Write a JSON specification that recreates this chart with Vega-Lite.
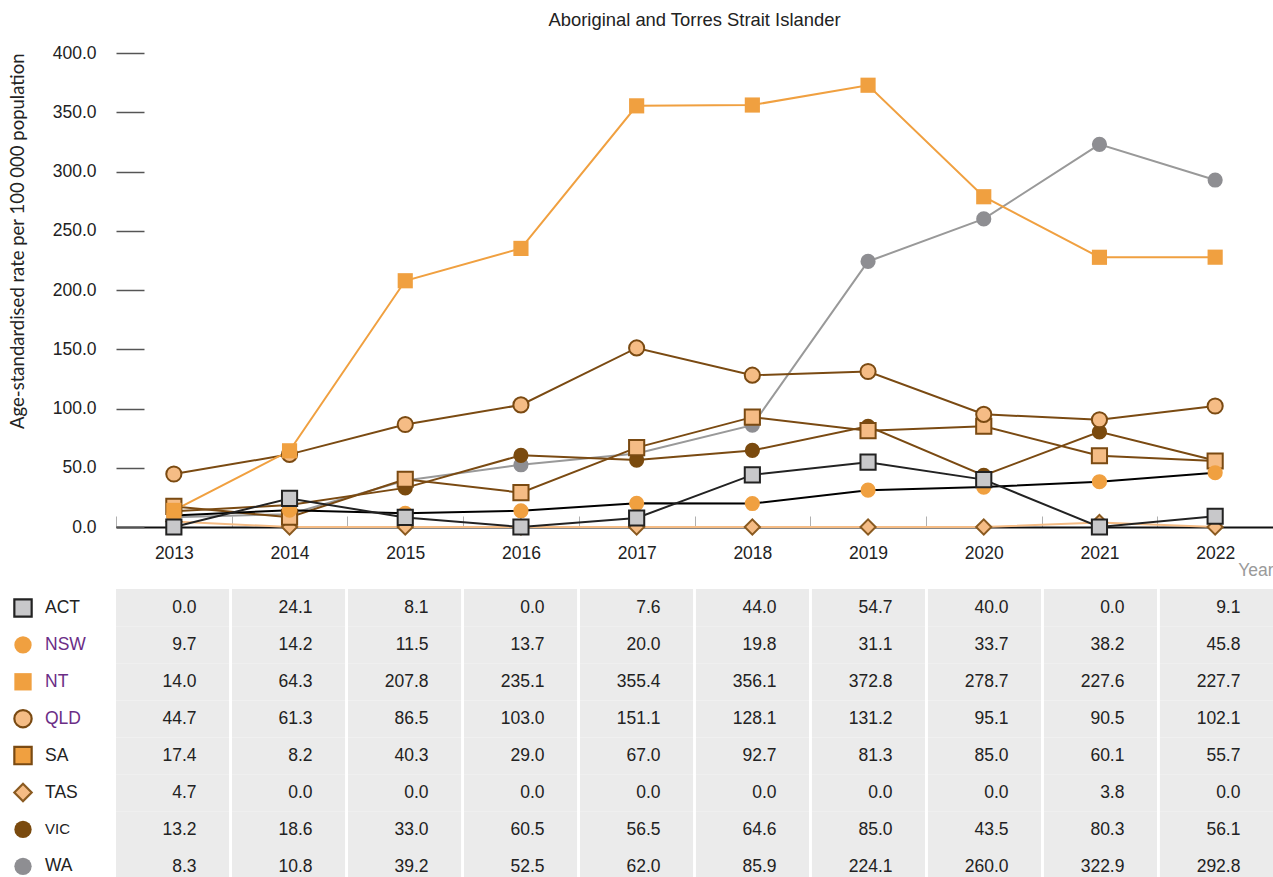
{
  "$schema": "https://vega.github.io/schema/vega-lite/v6.json",
  "background": "white",
  "padding": {"left": 4, "top": 10, "right": 0, "bottom": 0},
  "config": {
    "view": {"stroke": null},
    "font": "Liberation Sans",
    "legend": {"orient": "left", "offset": 21, "padding": 9, "rowPadding": 8.9, "symbolSize": 300, "symbolStrokeWidth": 2.2, "labelFontSize": 17.5, "labelFont": "Liberation Sans", "labelOffset": 12, "labelColor": "#222", "symbolOpacity": 1, "labelLimit": 0}
  },
  "datasets": {
    "rates": [
      {"state": "WA", "year": 2013, "rate": 8.3}, {"state": "WA", "year": 2014, "rate": 10.8}, {"state": "WA", "year": 2015, "rate": 39.2}, {"state": "WA", "year": 2016, "rate": 52.5}, {"state": "WA", "year": 2017, "rate": 62.0}, {"state": "WA", "year": 2018, "rate": 85.9}, {"state": "WA", "year": 2019, "rate": 224.1}, {"state": "WA", "year": 2020, "rate": 260.0}, {"state": "WA", "year": 2021, "rate": 322.9}, {"state": "WA", "year": 2022, "rate": 292.8},
      {"state": "VIC", "year": 2013, "rate": 13.2}, {"state": "VIC", "year": 2014, "rate": 18.6}, {"state": "VIC", "year": 2015, "rate": 33.0}, {"state": "VIC", "year": 2016, "rate": 60.5}, {"state": "VIC", "year": 2017, "rate": 56.5}, {"state": "VIC", "year": 2018, "rate": 64.6}, {"state": "VIC", "year": 2019, "rate": 85.0}, {"state": "VIC", "year": 2020, "rate": 43.5}, {"state": "VIC", "year": 2021, "rate": 80.3}, {"state": "VIC", "year": 2022, "rate": 56.1},
      {"state": "TAS", "year": 2013, "rate": 4.7}, {"state": "TAS", "year": 2014, "rate": 0.0}, {"state": "TAS", "year": 2015, "rate": 0.0}, {"state": "TAS", "year": 2016, "rate": 0.0}, {"state": "TAS", "year": 2017, "rate": 0.0}, {"state": "TAS", "year": 2018, "rate": 0.0}, {"state": "TAS", "year": 2019, "rate": 0.0}, {"state": "TAS", "year": 2020, "rate": 0.0}, {"state": "TAS", "year": 2021, "rate": 3.8}, {"state": "TAS", "year": 2022, "rate": 0.0},
      {"state": "SA", "year": 2013, "rate": 17.4}, {"state": "SA", "year": 2014, "rate": 8.2}, {"state": "SA", "year": 2015, "rate": 40.3}, {"state": "SA", "year": 2016, "rate": 29.0}, {"state": "SA", "year": 2017, "rate": 67.0}, {"state": "SA", "year": 2018, "rate": 92.7}, {"state": "SA", "year": 2019, "rate": 81.3}, {"state": "SA", "year": 2020, "rate": 85.0}, {"state": "SA", "year": 2021, "rate": 60.1}, {"state": "SA", "year": 2022, "rate": 55.7},
      {"state": "QLD", "year": 2013, "rate": 44.7}, {"state": "QLD", "year": 2014, "rate": 61.3}, {"state": "QLD", "year": 2015, "rate": 86.5}, {"state": "QLD", "year": 2016, "rate": 103.0}, {"state": "QLD", "year": 2017, "rate": 151.1}, {"state": "QLD", "year": 2018, "rate": 128.1}, {"state": "QLD", "year": 2019, "rate": 131.2}, {"state": "QLD", "year": 2020, "rate": 95.1}, {"state": "QLD", "year": 2021, "rate": 90.5}, {"state": "QLD", "year": 2022, "rate": 102.1},
      {"state": "NT", "year": 2013, "rate": 14.0}, {"state": "NT", "year": 2014, "rate": 64.3}, {"state": "NT", "year": 2015, "rate": 207.8}, {"state": "NT", "year": 2016, "rate": 235.1}, {"state": "NT", "year": 2017, "rate": 355.4}, {"state": "NT", "year": 2018, "rate": 356.1}, {"state": "NT", "year": 2019, "rate": 372.8}, {"state": "NT", "year": 2020, "rate": 278.7}, {"state": "NT", "year": 2021, "rate": 227.6}, {"state": "NT", "year": 2022, "rate": 227.7},
      {"state": "NSW", "year": 2013, "rate": 9.7}, {"state": "NSW", "year": 2014, "rate": 14.2}, {"state": "NSW", "year": 2015, "rate": 11.5}, {"state": "NSW", "year": 2016, "rate": 13.7}, {"state": "NSW", "year": 2017, "rate": 20.0}, {"state": "NSW", "year": 2018, "rate": 19.8}, {"state": "NSW", "year": 2019, "rate": 31.1}, {"state": "NSW", "year": 2020, "rate": 33.7}, {"state": "NSW", "year": 2021, "rate": 38.2}, {"state": "NSW", "year": 2022, "rate": 45.8},
      {"state": "ACT", "year": 2013, "rate": 0.0}, {"state": "ACT", "year": 2014, "rate": 24.1}, {"state": "ACT", "year": 2015, "rate": 8.1}, {"state": "ACT", "year": 2016, "rate": 0.0}, {"state": "ACT", "year": 2017, "rate": 7.6}, {"state": "ACT", "year": 2018, "rate": 44.0}, {"state": "ACT", "year": 2019, "rate": 54.7}, {"state": "ACT", "year": 2020, "rate": 40.0}, {"state": "ACT", "year": 2021, "rate": 0.0}, {"state": "ACT", "year": 2022, "rate": 9.1}
    ]
  },
  "bounds": "flush",
  "spacing": 62,
  "resolve": {
    "scale": {"color": "independent", "fill": "independent", "stroke": "independent", "shape": "independent"},
    "legend": {"color": "independent", "fill": "independent", "stroke": "independent", "shape": "independent"}
  },
  "vconcat": [
    {
      "width": 1157,
      "height": 474,
      "title": {"text": "Aboriginal and Torres Strait Islander", "fontSize": 18.4, "font": "Liberation Sans", "fontWeight": "normal", "color": "#222", "offset": 15, "anchor": "middle"},
      "data": {"name": "rates"},
      "encoding": {
        "x": {
          "field": "year", "type": "ordinal",
          "scale": {"paddingInner": 0, "paddingOuter": 0},
          "axis": {
            "title": "Year", "titleColor": "#9a9a9a", "titleFontSize": 17.5, "titleFontWeight": "normal", "titleFont": "Liberation Sans", "titleAnchor": "end", "titlePadding": 0,
            "labelAngle": 0, "labelFontSize": 17.5, "labelColor": "#222", "labelPadding": 28,
            "tickBand": "extent", "tickSize": -11, "tickColor": "#b0b0b0", "tickWidth": 1,
            "domainColor": "#111", "domainWidth": 2, "grid": false
          }
        },
        "y": {
          "field": "rate", "type": "quantitative",
          "scale": {"domain": [0, 400], "nice": false},
          "axis": {
            "title": "Age-standardised rate per 100 000 population",
            "titleFont": "Lato", "titleFontSize": 18.5, "titleFontWeight": "normal", "titleColor": "#222",
            "titleAnchor": "end", "titlePadding": 25,
            "values": [0, 50, 100, 150, 200, 250, 300, 350, 400], "format": ".1f",
            "labelFontSize": 17.5, "labelColor": "#222",
            "tickSize": -28, "tickColor": "#555", "tickWidth": 1.5, "labelPadding": 48,
            "domain": false, "grid": false
          }
        }
      },
      "layer": [
        {
          "mark": {"type": "line", "strokeWidth": 2},
          "encoding": {
            "color": {
              "field": "state", "type": "nominal", "legend": null,
              "scale": {
                "domain": ["ACT", "NSW", "NT", "QLD", "SA", "TAS", "VIC", "WA"],
                "range": ["#222222", "#000000", "#F0A040", "#7A4A12", "#7A4A12", "#F5BC85", "#7A4A12", "#999999"]
              }
            }
          }
        },
        {
          "mark": {"type": "point", "filled": true, "size": 230, "strokeWidth": 2, "opacity": 1},
          "encoding": {
            "shape": {
              "field": "state", "type": "nominal", "legend": null,
              "scale": {
                "domain": ["ACT", "NSW", "NT", "QLD", "SA", "TAS", "VIC", "WA"],
                "range": ["square", "circle", "square", "circle", "square", "diamond", "circle", "circle"]
              }
            },
            "fill": {
              "field": "state", "type": "nominal", "legend": null,
              "scale": {
                "domain": ["ACT", "NSW", "NT", "QLD", "SA", "TAS", "VIC", "WA"],
                "range": ["#C8C8CA", "#F0A040", "#F0A040", "#F5BC85", "#F5BC85", "#F5BC85", "#7A4A0E", "#8E8E92"]
              }
            },
            "stroke": {
              "field": "state", "type": "nominal", "legend": null,
              "scale": {
                "domain": ["ACT", "NSW", "NT", "QLD", "SA", "TAS", "VIC", "WA"],
                "range": ["#222222", "transparent", "transparent", "#7A4A12", "#7A4A12", "#8A5A20", "transparent", "transparent"]
              }
            }
          }
        }
      ]
    },
    {
      "width": 1157,
      "height": 297,
      "data": {"name": "rates"},
      "encoding": {
        "x": {"field": "year", "type": "ordinal", "scale": {"paddingInner": 0.025, "paddingOuter": 0}, "axis": null},
        "y": {"field": "state", "type": "nominal", "scale": {"domain": ["ACT", "NSW", "NT", "QLD", "SA", "TAS", "VIC", "WA"], "paddingInner": 0, "paddingOuter": 0}, "axis": null}
      },
      "layer": [
        {"mark": {"type": "rect", "fill": "#EBEBEB"}},
        {
          "mark": {"type": "text", "align": "right", "baseline": "middle", "dx": 24, "fontSize": 17.5, "color": "#222"},
          "encoding": {"text": {"field": "rate", "type": "quantitative", "format": ".1f"}}
        },
        {
          "transform": [{"filter": "datum.rate < 0"}],
          "mark": {"type": "point", "filled": true},
          "encoding": {
            "shape": {
              "field": "state", "type": "nominal",
              "legend": {
                "title": null,
                "encode": {"labels": {"update": {
                  "fill": {"signal": "indexof(['NSW','NT','QLD'], datum.label) >= 0 ? '#6B2D86' : '#222222'"},
                  "fontSize": {"signal": "datum.label == 'VIC' ? 15 : 17.5"}
                }}}
              },
              "scale": {
                "domain": ["ACT", "NSW", "NT", "QLD", "SA", "TAS", "VIC", "WA"],
                "range": ["square", "circle", "square", "circle", "square", "diamond", "circle", "circle"]
              }
            },
            "fill": {
              "field": "state", "type": "nominal",
              "legend": {
                "title": null,
                "encode": {"labels": {"update": {
                  "fill": {"signal": "indexof(['NSW','NT','QLD'], datum.label) >= 0 ? '#6B2D86' : '#222222'"},
                  "fontSize": {"signal": "datum.label == 'VIC' ? 15 : 17.5"}
                }}}
              },
              "scale": {
                "domain": ["ACT", "NSW", "NT", "QLD", "SA", "TAS", "VIC", "WA"],
                "range": ["#C8C8CA", "#F0A040", "#F0A040", "#F5BC85", "#F0A040", "#F5BC85", "#7A4A0E", "#8E8E92"]
              }
            },
            "stroke": {
              "field": "state", "type": "nominal",
              "legend": {
                "title": null,
                "encode": {"labels": {"update": {
                  "fill": {"signal": "indexof(['NSW','NT','QLD'], datum.label) >= 0 ? '#6B2D86' : '#222222'"},
                  "fontSize": {"signal": "datum.label == 'VIC' ? 15 : 17.5"}
                }}}
              },
              "scale": {
                "domain": ["ACT", "NSW", "NT", "QLD", "SA", "TAS", "VIC", "WA"],
                "range": ["#222222", "transparent", "transparent", "#7A4A12", "#7A4A12", "#8A5A20", "transparent", "transparent"]
              }
            }
          }
        }
      ]
    }
  ]
}
